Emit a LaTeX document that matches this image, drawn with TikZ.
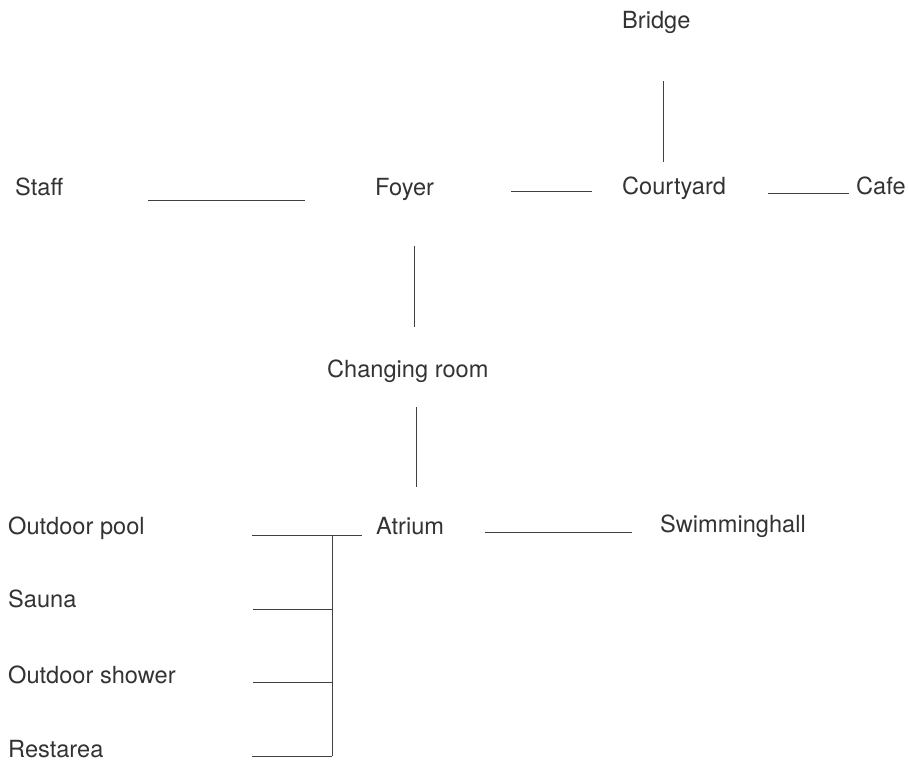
\documentclass[tikz,border=0pt]{standalone}
\usepackage{fontspec}
\setmainfont{TeX Gyre Heros}
\begin{document}
\begin{tikzpicture}[x=1pt,y=-1pt,
  lbl/.style={anchor=base west,inner sep=0pt,text=black!80,font=\fontsize{23.6}{28}\selectfont},
  link/.style={draw=black!75,line width=0.9pt}]
\useasboundingbox (0,0) rectangle (908,762);
% labels
\node[lbl] (bridge) at (622,29) {Bridge};
\node[lbl] (staff) at (15,196) {Staff};
\node[lbl] (foyer) at (375,196) {Foyer};
\node[lbl] (courtyard) at (622,195) {Courtyard};
\node[lbl] (cafe) at (856,195) {Cafe};
\node[lbl] (changing) at (327,377) {Changing room};
\node[lbl] (atrium) at (376,534) {Atrium};
\node[lbl] (swim) at (660,532) {Swimminghall};
\node[lbl] (pool) at (8,534) {Outdoor pool};
\node[lbl] (sauna) at (8,607) {Sauna};
\node[lbl] (shower) at (8,683) {Outdoor shower};
\node[lbl] (rest) at (8,757) {Restarea};
% connector end points
\coordinate (b1) at (663,81);   \coordinate (b2) at (663,162);
\coordinate (s1) at (148,200);  \coordinate (s2) at (305,200);
\coordinate (f1) at (511,191);  \coordinate (f2) at (592,191);
\coordinate (c1) at (768,193);  \coordinate (c2) at (849,193);
\coordinate (v1) at (414,246);  \coordinate (v2) at (414,327);
\coordinate (v3) at (416,407);  \coordinate (v4) at (416,487);
\coordinate (a1) at (485,532);  \coordinate (a2) at (632,532);
\coordinate (p1) at (252,535);  \coordinate (p2) at (362,535);
\coordinate (t1) at (332,535);  \coordinate (t2) at (332,756);
\coordinate (sa) at (253,609);  \coordinate (sb) at (332,609);
\coordinate (oa) at (253,682);  \coordinate (ob) at (332,682);
\coordinate (ra) at (252,756);  \coordinate (rb) at (332,756);
% connectors
\draw[link] (b1) -- (b2);
\draw[link] (s1) -- (s2);
\draw[link] (f1) -- (f2);
\draw[link] (c1) -- (c2);
\draw[link] (v1) -- (v2);
\draw[link] (v3) -- (v4);
\draw[link] (a1) -- (a2);
\draw[link] (p1) -- (p2);
\draw[link] (t1) -- (t2);
\draw[link] (sa) -- (sb);
\draw[link] (oa) -- (ob);
\draw[link] (ra) -- (rb);
\end{tikzpicture}
\end{document}
